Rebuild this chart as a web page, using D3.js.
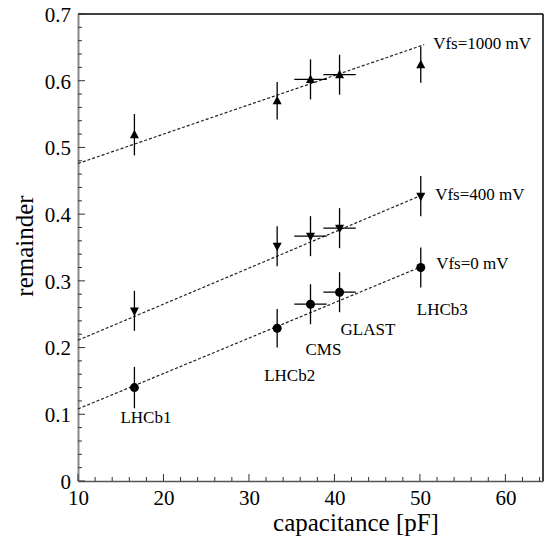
<!DOCTYPE html>
<html><head><meta charset="utf-8">
<script src="https://cdn.jsdelivr.net/npm/d3@7"></script>
<style>body{margin:0;background:#fff}svg{display:block}text{font-family:"Liberation Serif","Times New Roman",serif;fill:#000}</style>
</head><body><div id="chart"></div>
<script>
// ---- data ----
const detectors = ["LHCb1","LHCb2","CMS","GLAST","LHCb3"];
const capacitance = [16.6, 33.3, 37.2, 40.6, 50.1];
const capErr = [0, 0, 1.9, 1.9, 0];
const remainder1000 = [0.519, 0.570, 0.602, 0.609, 0.624];
const remainder400 = [0.255, 0.352, 0.367, 0.379, 0.427];
const remainder0 = [0.140, 0.229, 0.265, 0.283, 0.320];
const err1000 = [0.031, 0.028, 0.030, 0.030, 0.027];
const err400 = [0.030, 0.030, 0.030, 0.030, 0.030];
const err0 = [0.031, 0.029, 0.030, 0.030, 0.030];
const fitX = [10, 50.5];
const fit1000 = [0.476, 0.654];
const fit400 = [0.211, 0.430];
const fit0 = [0.108, 0.323];
const seriesLabels = ["Vfs=1000 mV","Vfs=400 mV","Vfs=0 mV"];
const xTicks = [10,20,30,40,50,60];
const yTicks = [0,0.1,0.2,0.3,0.4,0.5,0.6,0.7];

// ---- layout ----
const W=555,H=550, L=78, R=543, T=14, B=481;
const svg=d3.select("#chart").append("svg").attr("width",W).attr("height",H);
const x=d3.scaleLinear().domain([10,64.4]).range([L,R]);
const y=d3.scaleLinear().domain([0,0.7]).range([B,T]);

// frame
svg.append("line").attr("x1",L).attr("x2",R).attr("y1",T).attr("y2",T).attr("stroke","#000").attr("stroke-width",1.5);
svg.append("line").attr("x1",R).attr("x2",R).attr("y1",T).attr("y2",B).attr("stroke","#000").attr("stroke-width",1.5);

// axes
const xAxis=d3.axisBottom(x).tickValues(xTicks).tickSize(0).tickPadding(9);
const gx=svg.append("g").attr("transform",`translate(0,${B})`).call(xAxis);
gx.select(".domain").attr("stroke","#555").attr("stroke-width",1.5);
gx.selectAll("text").attr("font-size",21).style("font-family","Liberation Serif");
const yAxis=d3.axisLeft(y).tickValues(yTicks).tickFormat(d=>d===0?"0":d3.format(".1f")(d)).tickSize(0).tickPadding(7);
const gy=svg.append("g").attr("transform",`translate(${L},0)`).call(yAxis);
gy.select(".domain").attr("stroke","#888").attr("stroke-width",2);
gy.selectAll("text").attr("font-size",21).attr("dy","0.35em").style("font-family","Liberation Serif");

// inward ticks
const xMinor=d3.range(10,64.1,2);
svg.append("g").selectAll("line").data(xMinor).join("line")
  .attr("x1",d=>x(d)).attr("x2",d=>x(d)).attr("y1",B).attr("y2",d=>B-(d%10===0?7:4))
  .attr("stroke","#333").attr("stroke-width",1);
const yMinor=d3.range(0,0.7001,0.02);
svg.append("g").selectAll("line").data(yMinor).join("line")
  .attr("y1",d=>y(d)).attr("y2",d=>y(d)).attr("x1",L).attr("x2",d=>L+(Math.abs(d*10-Math.round(d*10))<1e-6?7:4))
  .attr("stroke","#333").attr("stroke-width",1);

// axis titles
svg.append("text").attr("x",356).attr("y",531).attr("text-anchor","middle").attr("font-size",25).text("capacitance [pF]");
svg.append("text").attr("transform","translate(33,246) rotate(-90)").attr("text-anchor","middle").attr("font-size",25).text("remainder");

// fit lines
[fit1000,fit400,fit0].forEach(f=>{
  svg.append("line").attr("x1",x(fitX[0])).attr("y1",y(f[0])).attr("x2",x(fitX[1])).attr("y2",y(f[1]))
    .attr("stroke","#222").attr("stroke-width",1.2).attr("stroke-dasharray","3,2");
});

// series
const series=[
  {v:remainder1000,e:err1000,sym:"up"},
  {v:remainder400,e:err400,sym:"down"},
  {v:remainder0,e:err0,sym:"circle"}
];
series.forEach(s=>{
  const g=svg.append("g");
  capacitance.forEach((c,i)=>{
    const cx=x(c), cy=y(s.v[i]);
    g.append("line").attr("x1",cx).attr("x2",cx).attr("y1",y(s.v[i]+s.e[i])).attr("y2",y(s.v[i]-s.e[i])).attr("stroke","#000").attr("stroke-width",1.3);
    if(capErr[i]>0) g.append("line").attr("x1",x(c-capErr[i])).attr("x2",x(c+capErr[i])).attr("y1",cy).attr("y2",cy).attr("stroke","#000").attr("stroke-width",1.3);
    if(s.sym==="circle") g.append("circle").attr("cx",cx).attr("cy",cy).attr("r",4.5).attr("fill","#000");
    else if(s.sym==="up") g.append("path").attr("d",`M${cx},${cy-5}L${cx+4.5},${cy+3.5}L${cx-4.5},${cy+3.5}Z`).attr("fill","#000");
    else g.append("path").attr("d",`M${cx},${cy+5}L${cx+4.5},${cy-3.5}L${cx-4.5},${cy-3.5}Z`).attr("fill","#000");
  });
});

// series labels
const fits=[fit1000,fit400,fit0];
const sOff=[[9,4],[11,6],[12,3]];
seriesLabels.forEach((t,i)=>{
  svg.append("text").attr("x",x(fitX[1])+sOff[i][0]).attr("y",y(fits[i][1])+sOff[i][1]).attr("font-size",17).text(t);
});
// detector labels (below circle series)
const dOff=[[-14,35],[-13,53],[-5,51],[1,43],[-4,47]];
detectors.forEach((t,i)=>{
  svg.append("text").attr("x",x(capacitance[i])+dOff[i][0]).attr("y",y(remainder0[i])+dOff[i][1]).attr("font-size",17).text(t);
});
</script></body></html>
